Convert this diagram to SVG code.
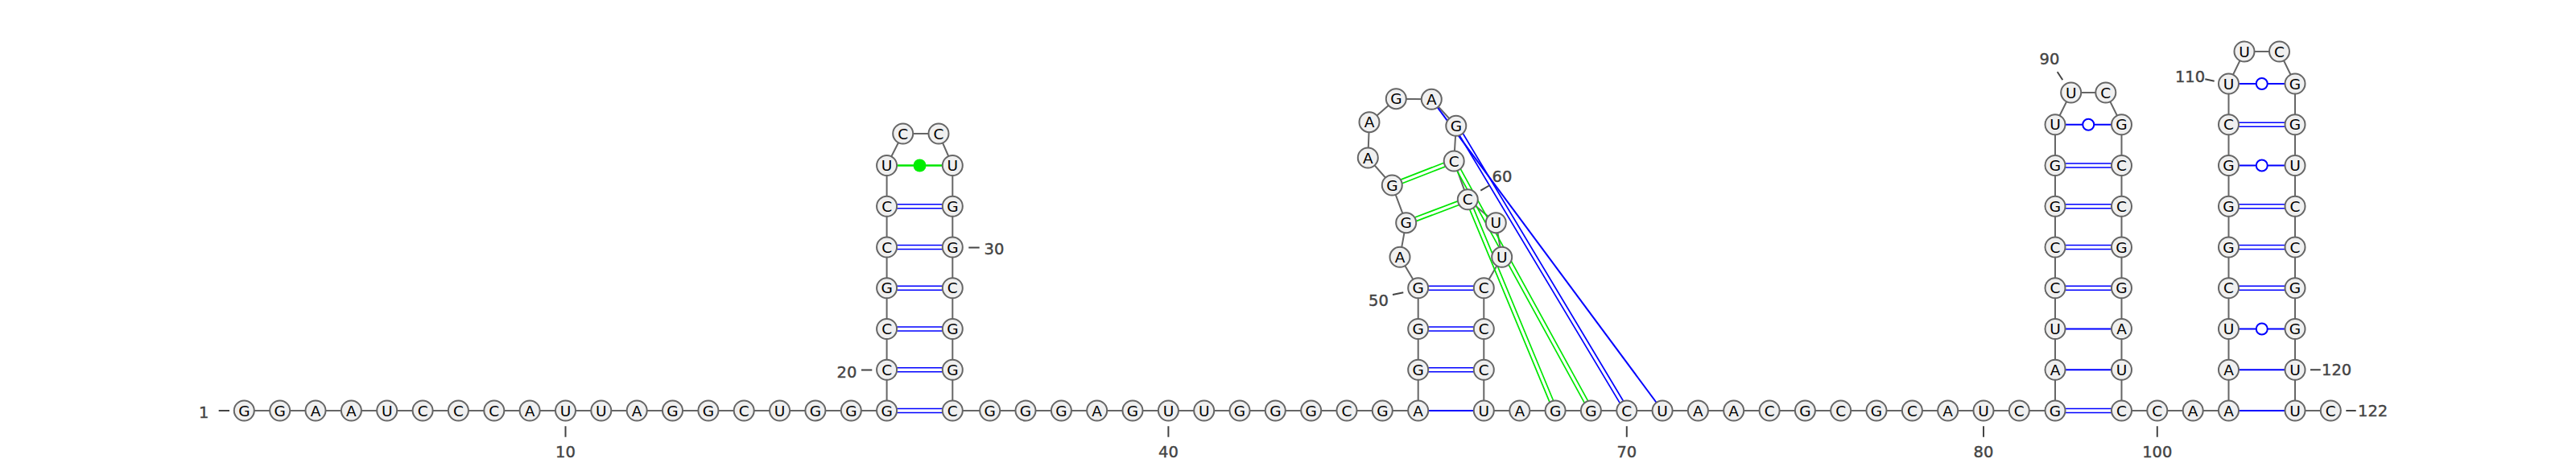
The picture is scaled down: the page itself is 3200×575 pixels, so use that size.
<svg xmlns="http://www.w3.org/2000/svg" width="3200" height="575" viewBox="0 0 3200 575">
<style>
#nodes circle{fill:#f0f0f0;stroke:#666;stroke-width:2}
#nodes text{font-family:"DejaVu Sans",sans-serif;font-size:18.5px;text-anchor:middle;fill:#000}
.bb{fill:none;stroke:#666;stroke-width:2}
.pb{fill:none;stroke:#0000ff;stroke-width:1.7}
.pbs{fill:none;stroke:#0000ff;stroke-width:2}
.pg{fill:none;stroke:#00e600;stroke-width:1.7}
.wob{fill:#fff;stroke:#0000ff;stroke-width:2}
.tick{stroke:#444;stroke-width:2}
.lbl{font-family:"DejaVu Sans",sans-serif;font-size:19.5px;fill:#444;stroke:#444;stroke-width:0.4}
</style>
<rect width="3200" height="575" fill="#fff"/>
<g id="connectors">
<polyline class="bb" points="303.3,510 347.7,510 392,510 436.4,510 480.7,510 525.1,510 569.4,510 613.8,510 658.1,510 702.5,510 746.8,510 791.2,510 835.5,510 879.9,510 924.2,510 968.6,510 1012.9,510 1057.3,510 1101.6,510 1101.6,459.25 1101.6,408.5 1101.6,357.75 1101.6,307 1101.6,256.25 1101.6,205.5 1121.7,166 1166,166 1183.3,205.5 1183.3,256.25 1183.3,307 1183.3,357.75 1183.3,408.5 1183.3,459.25 1183.3,510 1229.7,510 1274,510 1318.4,510 1362.7,510 1407,510 1451.4,510 1495.7,510 1540,510 1584.3,510 1628.7,510 1673,510 1717.3,510 1761.7,510 1761.7,459.25 1761.7,408.5 1761.7,357.75 1739,319.3 1746.7,276.7 1729.3,230 1699.3,196 1701,151.7 1734.3,122.7 1778.3,123.3 1808.8,156.3 1806.2,200 1823.3,247.8 1858.3,276.7 1865.7,319.3 1843.3,357.75 1843.3,408.5 1843.3,459.25 1843.3,510 1887.8,510 1932.1,510 1976.4,510 2020.8,510 2065.1,510 2109.4,510 2153.7,510 2198.1,510 2242.4,510 2286.7,510 2331,510 2375.4,510 2419.7,510 2464,510 2508.3,510 2553,510 2553,459.25 2553,408.5 2553,357.75 2553,307 2553,256.25 2553,205.5 2553,154.75 2572.7,115 2615.8,115 2635.5,154.75 2635.5,205.5 2635.5,256.25 2635.5,307 2635.5,357.75 2635.5,408.5 2635.5,459.25 2635.5,510 2679.8,510 2724.2,510 2768.5,510 2768.5,459.25 2768.5,408.5 2768.5,357.75 2768.5,307 2768.5,256.25 2768.5,205.5 2768.5,154.75 2768.5,104 2788,64 2831.5,64 2851,104 2851,154.75 2851,205.5 2851,256.25 2851,307 2851,357.75 2851,408.5 2851,459.25 2851,510 2895.3,510"/>
<path class="pb" d="M1114.1 507.5H1170.8M1114.1 512.5H1170.8M1114.1 456.75H1170.8M1114.1 461.75H1170.8M1114.1 406H1170.8M1114.1 411H1170.8M1114.1 355.25H1170.8M1114.1 360.25H1170.8M1114.1 304.5H1170.8M1114.1 309.5H1170.8M1114.1 253.75H1170.8M1114.1 258.75H1170.8"/>
<path d="M1114.1 205.5H1170.8" stroke="#00e600" stroke-width="2.5"/>
<circle cx="1142.5" cy="205.5" r="8" fill="#00ee00"/>
<path class="pbs" d="M1774.2 510H1830.8"/>
<path class="pb" d="M1774.2 456.75H1830.8M1774.2 461.75H1830.8M1774.2 406H1830.8M1774.2 411H1830.8M1774.2 355.25H1830.8M1774.2 360.25H1830.8"/>
<path class="pg" d="M1741.8 227.8L1795.5 206.9M1740 223.1L1793.7 202.2M1759.3 274.6L1812.5 254.5M1757.5 270L1810.7 249.9M1810 212.2L1968.2 500.2M1814.4 209.8L1972.6 497.8M1825.8 260.3L1925 499.4M1830.4 258.4L1929.6 497.5"/>
<path class="pb" d="M1813.1 168.3L2012.3 500.6M1817.3 165.7L2016.5 498"/>
<path class="pbs" d="M1785.7 133.3L2057.7 500"/>
<path class="pb" d="M2565.5 507.5H2623M2565.5 512.5H2623M2565.5 355.25H2623M2565.5 360.25H2623M2565.5 304.5H2623M2565.5 309.5H2623M2565.5 253.75H2623M2565.5 258.75H2623M2565.5 203H2623M2565.5 208H2623"/>
<path class="pbs" d="M2565.5 459.25H2623M2565.5 408.5H2623M2565.5 154.75H2623"/>
<circle class="wob" cx="2594.25" cy="154.75" r="7"/>
<path class="pbs" d="M2781 510H2838.5M2781 459.25H2838.5M2781 408.5H2838.5M2781 205.5H2838.5M2781 104H2838.5"/>
<path class="pb" d="M2781 355.25H2838.5M2781 360.25H2838.5M2781 304.5H2838.5M2781 309.5H2838.5M2781 253.75H2838.5M2781 258.75H2838.5M2781 152.25H2838.5M2781 157.25H2838.5"/>
<circle class="wob" cx="2809.75" cy="408.5" r="7"/>
<circle class="wob" cx="2809.75" cy="205.5" r="7"/>
<circle class="wob" cx="2809.75" cy="104" r="7"/>
</g>
<g id="nodes">
<g id="n1" transform="translate(303.3,510)"><circle r="12.5"/><text y="6.6">G</text></g>
<g id="n2" transform="translate(347.7,510)"><circle r="12.5"/><text y="6.6">G</text></g>
<g id="n3" transform="translate(392,510)"><circle r="12.5"/><text y="6.6">A</text></g>
<g id="n4" transform="translate(436.4,510)"><circle r="12.5"/><text y="6.6">A</text></g>
<g id="n5" transform="translate(480.7,510)"><circle r="12.5"/><text y="6.6">U</text></g>
<g id="n6" transform="translate(525.1,510)"><circle r="12.5"/><text y="6.6">C</text></g>
<g id="n7" transform="translate(569.4,510)"><circle r="12.5"/><text y="6.6">C</text></g>
<g id="n8" transform="translate(613.8,510)"><circle r="12.5"/><text y="6.6">C</text></g>
<g id="n9" transform="translate(658.1,510)"><circle r="12.5"/><text y="6.6">A</text></g>
<g id="n10" transform="translate(702.5,510)"><circle r="12.5"/><text y="6.6">U</text></g>
<g id="n11" transform="translate(746.8,510)"><circle r="12.5"/><text y="6.6">U</text></g>
<g id="n12" transform="translate(791.2,510)"><circle r="12.5"/><text y="6.6">A</text></g>
<g id="n13" transform="translate(835.5,510)"><circle r="12.5"/><text y="6.6">G</text></g>
<g id="n14" transform="translate(879.9,510)"><circle r="12.5"/><text y="6.6">G</text></g>
<g id="n15" transform="translate(924.2,510)"><circle r="12.5"/><text y="6.6">C</text></g>
<g id="n16" transform="translate(968.6,510)"><circle r="12.5"/><text y="6.6">U</text></g>
<g id="n17" transform="translate(1012.9,510)"><circle r="12.5"/><text y="6.6">G</text></g>
<g id="n18" transform="translate(1057.3,510)"><circle r="12.5"/><text y="6.6">G</text></g>
<g id="n19" transform="translate(1101.6,510)"><circle r="12.5"/><text y="6.6">G</text></g>
<g id="n20" transform="translate(1101.6,459.25)"><circle r="12.5"/><text y="6.6">C</text></g>
<g id="n21" transform="translate(1101.6,408.5)"><circle r="12.5"/><text y="6.6">C</text></g>
<g id="n22" transform="translate(1101.6,357.75)"><circle r="12.5"/><text y="6.6">G</text></g>
<g id="n23" transform="translate(1101.6,307)"><circle r="12.5"/><text y="6.6">C</text></g>
<g id="n24" transform="translate(1101.6,256.25)"><circle r="12.5"/><text y="6.6">C</text></g>
<g id="n25" transform="translate(1101.6,205.5)"><circle r="12.5"/><text y="6.6">U</text></g>
<g id="n26" transform="translate(1121.7,166)"><circle r="12.5"/><text y="6.6">C</text></g>
<g id="n27" transform="translate(1166,166)"><circle r="12.5"/><text y="6.6">C</text></g>
<g id="n28" transform="translate(1183.3,205.5)"><circle r="12.5"/><text y="6.6">U</text></g>
<g id="n29" transform="translate(1183.3,256.25)"><circle r="12.5"/><text y="6.6">G</text></g>
<g id="n30" transform="translate(1183.3,307)"><circle r="12.5"/><text y="6.6">G</text></g>
<g id="n31" transform="translate(1183.3,357.75)"><circle r="12.5"/><text y="6.6">C</text></g>
<g id="n32" transform="translate(1183.3,408.5)"><circle r="12.5"/><text y="6.6">G</text></g>
<g id="n33" transform="translate(1183.3,459.25)"><circle r="12.5"/><text y="6.6">G</text></g>
<g id="n34" transform="translate(1183.3,510)"><circle r="12.5"/><text y="6.6">C</text></g>
<g id="n35" transform="translate(1229.7,510)"><circle r="12.5"/><text y="6.6">G</text></g>
<g id="n36" transform="translate(1274,510)"><circle r="12.5"/><text y="6.6">G</text></g>
<g id="n37" transform="translate(1318.4,510)"><circle r="12.5"/><text y="6.6">G</text></g>
<g id="n38" transform="translate(1362.7,510)"><circle r="12.5"/><text y="6.6">A</text></g>
<g id="n39" transform="translate(1407,510)"><circle r="12.5"/><text y="6.6">G</text></g>
<g id="n40" transform="translate(1451.4,510)"><circle r="12.5"/><text y="6.6">U</text></g>
<g id="n41" transform="translate(1495.7,510)"><circle r="12.5"/><text y="6.6">U</text></g>
<g id="n42" transform="translate(1540,510)"><circle r="12.5"/><text y="6.6">G</text></g>
<g id="n43" transform="translate(1584.3,510)"><circle r="12.5"/><text y="6.6">G</text></g>
<g id="n44" transform="translate(1628.7,510)"><circle r="12.5"/><text y="6.6">G</text></g>
<g id="n45" transform="translate(1673,510)"><circle r="12.5"/><text y="6.6">C</text></g>
<g id="n46" transform="translate(1717.3,510)"><circle r="12.5"/><text y="6.6">G</text></g>
<g id="n47" transform="translate(1761.7,510)"><circle r="12.5"/><text y="6.6">A</text></g>
<g id="n48" transform="translate(1761.7,459.25)"><circle r="12.5"/><text y="6.6">G</text></g>
<g id="n49" transform="translate(1761.7,408.5)"><circle r="12.5"/><text y="6.6">G</text></g>
<g id="n50" transform="translate(1761.7,357.75)"><circle r="12.5"/><text y="6.6">G</text></g>
<g id="n51" transform="translate(1739,319.3)"><circle r="12.5"/><text y="6.6">A</text></g>
<g id="n52" transform="translate(1746.7,276.7)"><circle r="12.5"/><text y="6.6">G</text></g>
<g id="n53" transform="translate(1729.3,230)"><circle r="12.5"/><text y="6.6">G</text></g>
<g id="n54" transform="translate(1699.3,196)"><circle r="12.5"/><text y="6.6">A</text></g>
<g id="n55" transform="translate(1701,151.7)"><circle r="12.5"/><text y="6.6">A</text></g>
<g id="n56" transform="translate(1734.3,122.7)"><circle r="12.5"/><text y="6.6">G</text></g>
<g id="n57" transform="translate(1778.3,123.3)"><circle r="12.5"/><text y="6.6">A</text></g>
<g id="n58" transform="translate(1808.8,156.3)"><circle r="12.5"/><text y="6.6">G</text></g>
<g id="n59" transform="translate(1806.2,200)"><circle r="12.5"/><text y="6.6">C</text></g>
<g id="n60" transform="translate(1823.3,247.8)"><circle r="12.5"/><text y="6.6">C</text></g>
<g id="n61" transform="translate(1858.3,276.7)"><circle r="12.5"/><text y="6.6">U</text></g>
<g id="n62" transform="translate(1865.7,319.3)"><circle r="12.5"/><text y="6.6">U</text></g>
<g id="n63" transform="translate(1843.3,357.75)"><circle r="12.5"/><text y="6.6">C</text></g>
<g id="n64" transform="translate(1843.3,408.5)"><circle r="12.5"/><text y="6.6">C</text></g>
<g id="n65" transform="translate(1843.3,459.25)"><circle r="12.5"/><text y="6.6">C</text></g>
<g id="n66" transform="translate(1843.3,510)"><circle r="12.5"/><text y="6.6">U</text></g>
<g id="n67" transform="translate(1887.8,510)"><circle r="12.5"/><text y="6.6">A</text></g>
<g id="n68" transform="translate(1932.1,510)"><circle r="12.5"/><text y="6.6">G</text></g>
<g id="n69" transform="translate(1976.4,510)"><circle r="12.5"/><text y="6.6">G</text></g>
<g id="n70" transform="translate(2020.8,510)"><circle r="12.5"/><text y="6.6">C</text></g>
<g id="n71" transform="translate(2065.1,510)"><circle r="12.5"/><text y="6.6">U</text></g>
<g id="n72" transform="translate(2109.4,510)"><circle r="12.5"/><text y="6.6">A</text></g>
<g id="n73" transform="translate(2153.7,510)"><circle r="12.5"/><text y="6.6">A</text></g>
<g id="n74" transform="translate(2198.1,510)"><circle r="12.5"/><text y="6.6">C</text></g>
<g id="n75" transform="translate(2242.4,510)"><circle r="12.5"/><text y="6.6">G</text></g>
<g id="n76" transform="translate(2286.7,510)"><circle r="12.5"/><text y="6.6">C</text></g>
<g id="n77" transform="translate(2331,510)"><circle r="12.5"/><text y="6.6">G</text></g>
<g id="n78" transform="translate(2375.4,510)"><circle r="12.5"/><text y="6.6">C</text></g>
<g id="n79" transform="translate(2419.7,510)"><circle r="12.5"/><text y="6.6">A</text></g>
<g id="n80" transform="translate(2464,510)"><circle r="12.5"/><text y="6.6">U</text></g>
<g id="n81" transform="translate(2508.3,510)"><circle r="12.5"/><text y="6.6">C</text></g>
<g id="n82" transform="translate(2553,510)"><circle r="12.5"/><text y="6.6">G</text></g>
<g id="n83" transform="translate(2553,459.25)"><circle r="12.5"/><text y="6.6">A</text></g>
<g id="n84" transform="translate(2553,408.5)"><circle r="12.5"/><text y="6.6">U</text></g>
<g id="n85" transform="translate(2553,357.75)"><circle r="12.5"/><text y="6.6">C</text></g>
<g id="n86" transform="translate(2553,307)"><circle r="12.5"/><text y="6.6">C</text></g>
<g id="n87" transform="translate(2553,256.25)"><circle r="12.5"/><text y="6.6">G</text></g>
<g id="n88" transform="translate(2553,205.5)"><circle r="12.5"/><text y="6.6">G</text></g>
<g id="n89" transform="translate(2553,154.75)"><circle r="12.5"/><text y="6.6">U</text></g>
<g id="n90" transform="translate(2572.7,115)"><circle r="12.5"/><text y="6.6">U</text></g>
<g id="n91" transform="translate(2615.8,115)"><circle r="12.5"/><text y="6.6">C</text></g>
<g id="n92" transform="translate(2635.5,154.75)"><circle r="12.5"/><text y="6.6">G</text></g>
<g id="n93" transform="translate(2635.5,205.5)"><circle r="12.5"/><text y="6.6">C</text></g>
<g id="n94" transform="translate(2635.5,256.25)"><circle r="12.5"/><text y="6.6">C</text></g>
<g id="n95" transform="translate(2635.5,307)"><circle r="12.5"/><text y="6.6">G</text></g>
<g id="n96" transform="translate(2635.5,357.75)"><circle r="12.5"/><text y="6.6">G</text></g>
<g id="n97" transform="translate(2635.5,408.5)"><circle r="12.5"/><text y="6.6">A</text></g>
<g id="n98" transform="translate(2635.5,459.25)"><circle r="12.5"/><text y="6.6">U</text></g>
<g id="n99" transform="translate(2635.5,510)"><circle r="12.5"/><text y="6.6">C</text></g>
<g id="n100" transform="translate(2679.8,510)"><circle r="12.5"/><text y="6.6">C</text></g>
<g id="n101" transform="translate(2724.2,510)"><circle r="12.5"/><text y="6.6">A</text></g>
<g id="n102" transform="translate(2768.5,510)"><circle r="12.5"/><text y="6.6">A</text></g>
<g id="n103" transform="translate(2768.5,459.25)"><circle r="12.5"/><text y="6.6">A</text></g>
<g id="n104" transform="translate(2768.5,408.5)"><circle r="12.5"/><text y="6.6">U</text></g>
<g id="n105" transform="translate(2768.5,357.75)"><circle r="12.5"/><text y="6.6">C</text></g>
<g id="n106" transform="translate(2768.5,307)"><circle r="12.5"/><text y="6.6">G</text></g>
<g id="n107" transform="translate(2768.5,256.25)"><circle r="12.5"/><text y="6.6">G</text></g>
<g id="n108" transform="translate(2768.5,205.5)"><circle r="12.5"/><text y="6.6">G</text></g>
<g id="n109" transform="translate(2768.5,154.75)"><circle r="12.5"/><text y="6.6">C</text></g>
<g id="n110" transform="translate(2768.5,104)"><circle r="12.5"/><text y="6.6">U</text></g>
<g id="n111" transform="translate(2788,64)"><circle r="12.5"/><text y="6.6">U</text></g>
<g id="n112" transform="translate(2831.5,64)"><circle r="12.5"/><text y="6.6">C</text></g>
<g id="n113" transform="translate(2851,104)"><circle r="12.5"/><text y="6.6">G</text></g>
<g id="n114" transform="translate(2851,154.75)"><circle r="12.5"/><text y="6.6">G</text></g>
<g id="n115" transform="translate(2851,205.5)"><circle r="12.5"/><text y="6.6">U</text></g>
<g id="n116" transform="translate(2851,256.25)"><circle r="12.5"/><text y="6.6">C</text></g>
<g id="n117" transform="translate(2851,307)"><circle r="12.5"/><text y="6.6">C</text></g>
<g id="n118" transform="translate(2851,357.75)"><circle r="12.5"/><text y="6.6">G</text></g>
<g id="n119" transform="translate(2851,408.5)"><circle r="12.5"/><text y="6.6">G</text></g>
<g id="n120" transform="translate(2851,459.25)"><circle r="12.5"/><text y="6.6">U</text></g>
<g id="n121" transform="translate(2851,510)"><circle r="12.5"/><text y="6.6">U</text></g>
<g id="n122" transform="translate(2895.3,510)"><circle r="12.5"/><text y="6.6">C</text></g>
</g>
<g id="labels">
<path class="tick" d="M271.7 510H285M702.5 529.3V542.7M1070 459.5H1083.3M1203.3 307.5H1216.7M1451.4 529.3V542.7M1730 366L1743.3 363.3M1839.3 236.7L1850.7 230M2020.8 529.3V542.7M2464 529.3V542.7M2555.7 89.3L2562.3 99.3M2679.8 529.3V542.7M2739.3 98.3L2750.7 100.7M2870 459.3H2882.7M2914.3 510H2926.7"/>
<text class="lbl" x="253.3" y="518.8" text-anchor="middle">1</text>
<text class="lbl" x="702.5" y="568.2" text-anchor="middle">10</text>
<text class="lbl" x="1052" y="468.8" text-anchor="middle">20</text>
<text class="lbl" x="1235" y="316.3" text-anchor="middle">30</text>
<text class="lbl" x="1451.4" y="568.2" text-anchor="middle">40</text>
<text class="lbl" x="1712.5" y="379.8" text-anchor="middle">50</text>
<text class="lbl" x="1866" y="226.4" text-anchor="middle">60</text>
<text class="lbl" x="2020.8" y="568.2" text-anchor="middle">70</text>
<text class="lbl" x="2464" y="568.2" text-anchor="middle">80</text>
<text class="lbl" x="2546" y="80.4" text-anchor="middle">90</text>
<text class="lbl" x="2679.8" y="568.2" text-anchor="middle">100</text>
<text class="lbl" x="2720.5" y="102" text-anchor="middle">110</text>
<text class="lbl" x="2884" y="466.4" text-anchor="start">120</text>
<text class="lbl" x="2929" y="517" text-anchor="start">122</text>
</g>
</svg>
